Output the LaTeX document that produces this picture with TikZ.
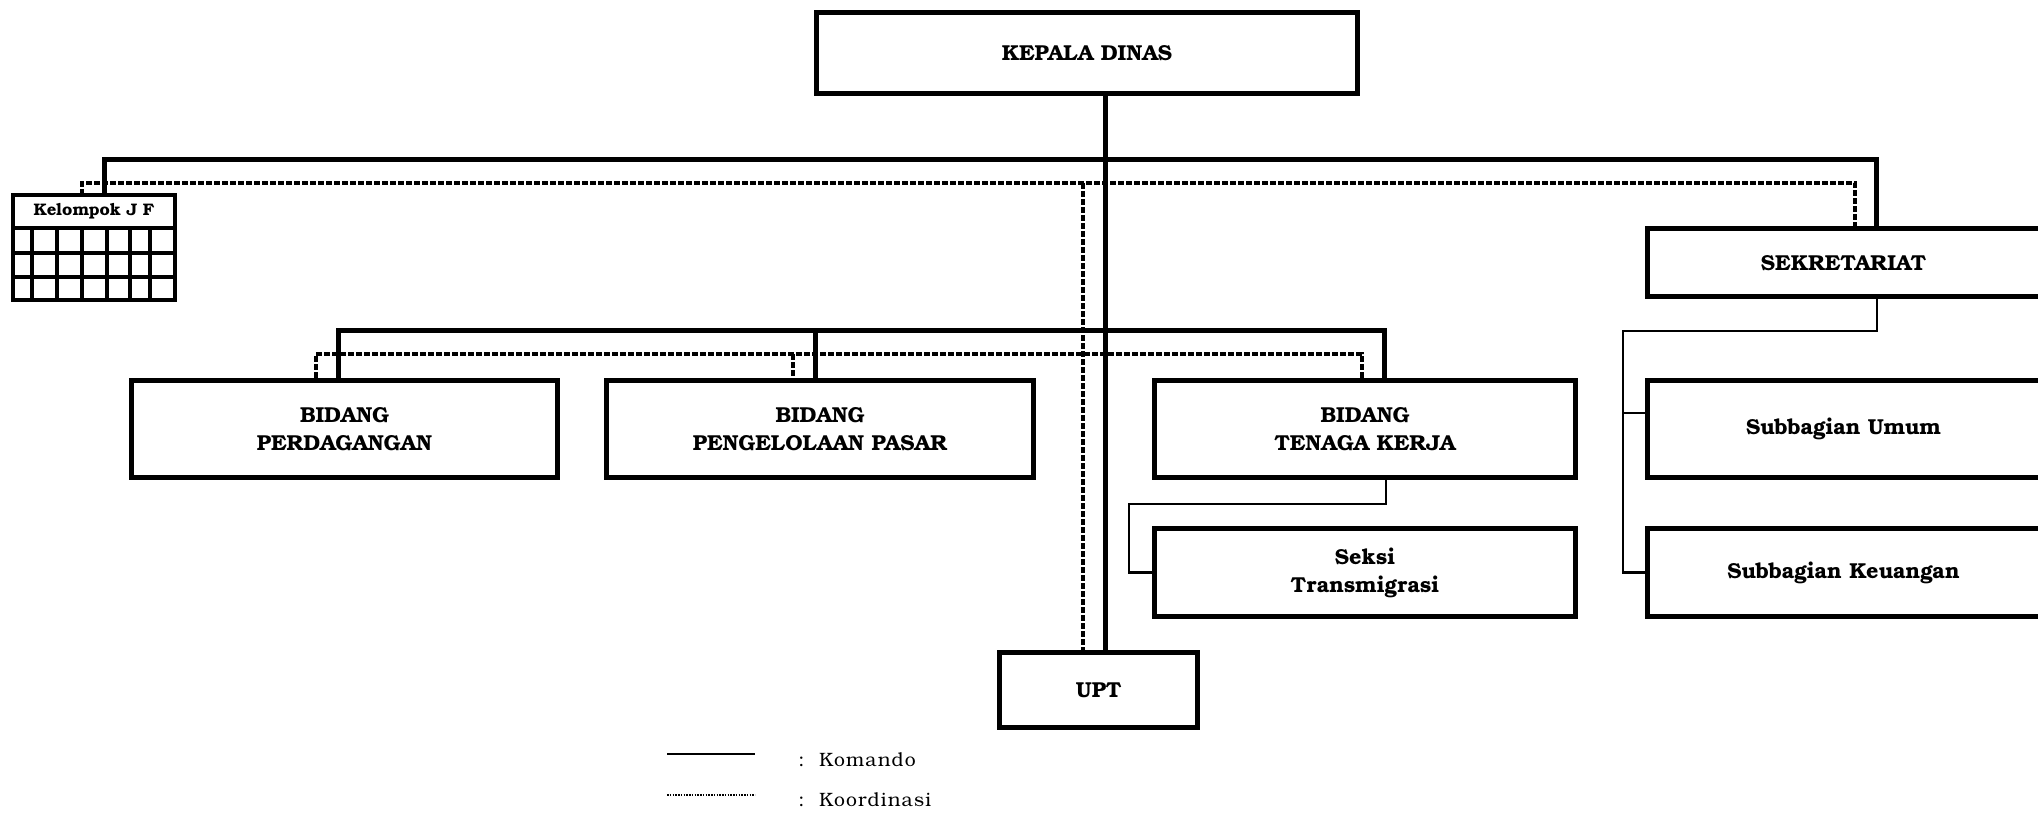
\documentclass[tikz,border=0pt]{standalone}
\usepackage{fontspec}
\setmainfont{TeX Gyre Bonum}
\begin{document}
\begin{tikzpicture}[x=0.2mm, y=-0.2mm, line join=miter,
	box/.style={draw, line width=1mm, rectangle, align=center, inner sep=0pt, font=\fontsize{12.3}{16}\selectfont\bfseries},
	komando/.style={line width=1mm},
	koord/.style={line width=0.75mm, dash pattern=on 1.2mm off 0.4mm},
	garis/.style={line width=0.45mm},
	grid/.style={line width=0.65mm}]
	\useasboundingbox (0,0) rectangle (2038,814);
	\node[box, minimum width=108.2mm, minimum height=16.2mm] (kadis) at (1087,53) {KEPALA DINAS};
	\node[box, minimum width=78.6mm, minimum height=13.6mm] (sekr) at (1843.5,263) {SEKRETARIAT};
	\node[box, minimum width=39.6mm, minimum height=15mm] (upt) at (1098.5,690) {UPT};
	\node[box, minimum width=85.2mm, minimum height=19.4mm] (perd) at (344.5,429) {BIDANG\\PERDAGANGAN};
	\node[box, minimum width=85.4mm, minimum height=19.4mm] (pasar) at (820,429) {BIDANG\\PENGELOLAAN PASAR};
	\node[box, minimum width=84.2mm, minimum height=19.4mm] (naker) at (1365,429) {BIDANG\\TENAGA KERJA};
	\node[box, minimum width=84.2mm, minimum height=17.6mm] (seksi) at (1365,572.5) {Seksi\\Transmigrasi};
	\node[box, minimum width=78.6mm, minimum height=19.4mm] (umum) at (1843.5,429) {Subbagian Umum};
	\node[box, minimum width=78.6mm, minimum height=17.6mm] (keu) at (1843.5,572.5) {Subbagian Keuangan};
	% kelompok jabatan fungsional
	\node[minimum width=32.4mm, minimum height=6.6mm, inner sep=0pt, font=\fontsize{9.5}{10}\selectfont\bfseries] (jf) at (94,211.5) {Kelompok J F};
	\draw[grid] (13,195) rectangle (175,300);
	\foreach \y in {228,253,277} \draw[grid] (13,\y) -- (175,\y);
	\foreach \x in {32,57,82,107,130,150} \draw[grid] (\x,228) -- (\x,300);
	% garis komando
	\coordinate (busU) at (1105,160);
	\coordinate (busL) at (104,160);
	\coordinate (busR) at (1876,160);
	\coordinate (bidL) at (338,331);
	\coordinate (bidC) at (815,331);
	\coordinate (bidR) at (1384,331);
	\draw[komando] (kadis.south -| busU) -- (upt.north -| busU);
	\draw[komando] (jf.north -| busL) -- (busL) -- (busR) -- (sekr.north -| busR);
	\draw[komando] (perd.north -| bidL) -- (bidL) -- (bidR) -- (naker.north -| bidR);
	\draw[komando] (bidC) -- (pasar.north -| bidC);
	% garis koordinasi
	\coordinate (koU) at (1083,183);
	\coordinate (koL) at (82,183);
	\coordinate (koR) at (1855,183);
	\coordinate (kbL) at (316,354);
	\coordinate (kbC) at (793,354);
	\coordinate (kbR) at (1362,354);
	\draw[koord] (jf.north -| koL) -- (koL) -- (koR) -- (sekr.north -| koR);
	\draw[koord] (koU) -- (upt.north -| koU);
	\draw[koord] (perd.north -| kbL) -- (kbL) -- (kbR) -- (naker.north -| kbR);
	\draw[koord] (kbC) -- (pasar.north -| kbC);
	% cabang seksi dan subbagian
	\coordinate (nkA) at (1386,504);
	\coordinate (nkB) at (1129,504);
	\coordinate (skA) at (1877,331);
	\coordinate (skB) at (1623,331);
	\coordinate (skU) at (1623,413);
	\draw[garis] (naker.south -| nkA) -- (nkA) -- (nkB) |- (seksi.west);
	\draw[garis] (sekr.south -| skA) -- (skA) -- (skB) |- (keu.west);
	\draw[garis] (skU) -- (skU -| umum.west);
	% keterangan
	\coordinate (lgA) at (667,754);
	\coordinate (lgB) at (755,754);
	\coordinate (lgC) at (667,795);
	\coordinate (lgD) at (755,795);
	\draw[line width=0.5mm] (lgA) -- (lgB);
	\draw[line width=0.3mm, dash pattern=on 0.3mm off 0.25mm] (lgC) -- (lgD);
	\node[anchor=west, inner sep=0pt, font=\fontsize{11}{12}\selectfont\addfontfeature{LetterSpace=6}] (kom) at (798,760) {:\ \ Komando};
	\node[anchor=west, inner sep=0pt, font=\fontsize{11}{12}\selectfont\addfontfeature{LetterSpace=6}] (koo) at (798,800) {:\ \ Koordinasi};
\end{tikzpicture}
\end{document}
